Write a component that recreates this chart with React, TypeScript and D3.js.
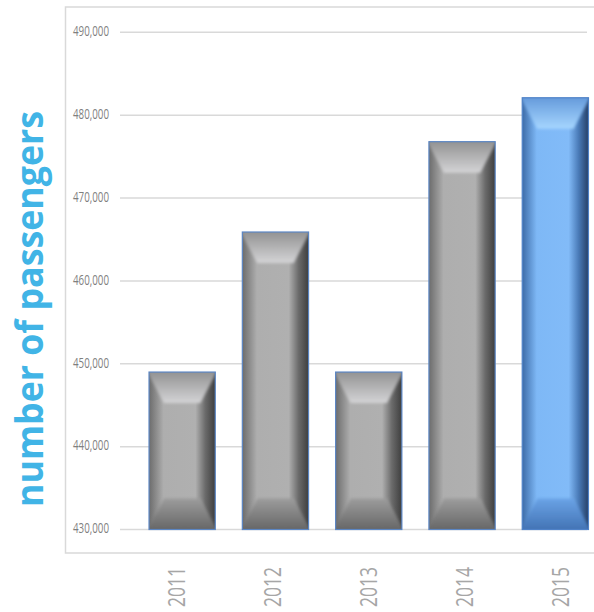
import React from "react";
import * as d3 from "d3";

const years = ["2011", "2012", "2013", "2014", "2015"];
const passengers = [449000, 465900, 449000, 476800, 482100];
const highlight = [false, false, false, false, true];
const yTicks = [430000, 440000, 450000, 460000, 470000, 480000, 490000];
const yTitle = "number of passengers";

const W = 594;
const H = 612;

export default function App() {
  const y = d3.scaleLinear().domain([430000, 490000]).range([529.5, 32.3]);
  const x = d3.scaleBand<string>().domain(years).range([135.5, 602]).paddingInner(0.29).paddingOuter(0.145);
  const xl = d3.scalePoint<string>().domain(years).range([177, 561]);
  const fmt = d3.format(",");
  const bevH = 31;
  const bevW = 15;

  return (
    <svg width={W} height={H} style={{ position: "absolute", left: 0, top: 0, display: "block" }}>
      <defs>
        <filter id="soft" x="-10%" y="-10%" width="120%" height="120%">
          <feGaussianBlur stdDeviation="1.6" />
        </filter>
        <linearGradient id="grayBody" x1="0" x2="1" y1="0" y2="0">
          <stop offset="0" stopColor="#6c6c6c" />
          <stop offset="0.22" stopColor="#aeaeae" />
          <stop offset="0.7" stopColor="#b0b0b0" />
          <stop offset="0.85" stopColor="#6a6a6a" />
          <stop offset="1" stopColor="#3e3e3e" />
        </linearGradient>
        <linearGradient id="grayTop" x1="0" x2="0" y1="0" y2="1">
          <stop offset="0" stopColor="#8c8c8c" />
          <stop offset="1" stopColor="#d4d4d6" />
        </linearGradient>
        <linearGradient id="grayBot" x1="0" x2="0" y1="0" y2="1">
          <stop offset="0" stopColor="#9c9c9c" />
          <stop offset="1" stopColor="#626262" />
        </linearGradient>
        <linearGradient id="blueBody" x1="0" x2="1" y1="0" y2="0">
          <stop offset="0" stopColor="#3d6ca8" />
          <stop offset="0.22" stopColor="#7eb8f6" />
          <stop offset="0.7" stopColor="#82bbf8" />
          <stop offset="0.85" stopColor="#4a7bb8" />
          <stop offset="1" stopColor="#263f66" />
        </linearGradient>
        <linearGradient id="blueTop" x1="0" x2="0" y1="0" y2="1">
          <stop offset="0" stopColor="#5f95d8" />
          <stop offset="1" stopColor="#a6d6ff" />
        </linearGradient>
        <linearGradient id="blueBot" x1="0" x2="0" y1="0" y2="1">
          <stop offset="0" stopColor="#6aa3e6" />
          <stop offset="1" stopColor="#3f6fb0" />
        </linearGradient>
        {years.map((yr, i) => (
          <clipPath key={yr} id={`clip${i}`}>
            <rect
              x={x(yr)!}
              y={y(passengers[i])}
              width={x.bandwidth()}
              height={y(430000) - y(passengers[i])}
            />
          </clipPath>
        ))}
      </defs>
      <rect x={0} y={0} width={W} height={H} fill="#ffffff" />
      {/* frame */}
      <rect x={65.5} y={7} width={W} height={546} fill="none" stroke="#d9d9d9" strokeWidth={1.5} />
      {/* gridlines and y labels */}
      {yTicks.map((t) => (
        <g key={t}>
          <line x1={120} x2={587} y1={y(t)} y2={y(t)} stroke="#d9d9d9" strokeWidth={1.5} />
          <text
            x={109}
            y={y(t)}
            textAnchor="end"
            dominantBaseline="middle"
            fontFamily="Open Sans, sans-serif"
            fontSize={14}
            fill="#7f7f7f"
            textLength={36}
            lengthAdjust="spacingAndGlyphs"
          >
            {fmt(t)}
          </text>
        </g>
      ))}
      {/* bars */}
      {years.map((yr, i) => {
        const x0 = x(yr)!;
        const w = x.bandwidth();
        const x1 = x0 + w;
        const yt = y(passengers[i]);
        const yb = y(430000);
        const hl = highlight[i];
        const pre = hl ? "blue" : "gray";
        return (
          <g key={yr}>
            <rect x={x0} y={yt} width={w} height={yb - yt} fill={`url(#${pre}Body)`} />
            <g clipPath={`url(#clip${i})`}>
              <g filter="url(#soft)">
                <polygon
                  points={`${x0 - 3},${yt - 3} ${x1 + 3},${yt - 3} ${x1 - bevW},${yt + bevH} ${x0 + bevW},${yt + bevH}`}
                  fill={`url(#${pre}Top)`}
                />
                <polygon
                  points={`${x0 + bevW},${yb - bevH} ${x1 - bevW},${yb - bevH} ${x1 + 3},${yb + 3} ${x0 - 3},${yb + 3}`}
                  fill={`url(#${pre}Bot)`}
                />
              </g>
            </g>
            <rect x={x0} y={yt} width={w} height={yb - yt} fill="none" stroke={hl ? "#4f82c8" : "#5b86c4"} strokeWidth={1.2} />
          </g>
        );
      })}
      {/* x labels */}
      {years.map((yr) => (
        <text
          key={yr}
          transform={`translate(${xl(yr)! + 8},567) rotate(-90)`}
          textAnchor="end"
          fontFamily="Open Sans, sans-serif"
          fontSize={23}
          fill="#a6a6a6"
          textLength={40}
          lengthAdjust="spacingAndGlyphs"
        >
          {yr}
        </text>
      ))}
      {/* y title */}
      <text
        transform="translate(43,309) rotate(-90)"
        textAnchor="middle"
        fontFamily="Open Sans, sans-serif"
        fontWeight="bold"
        fontSize={38}
        fill="#41b4e6"
        textLength={396}
        lengthAdjust="spacingAndGlyphs"
      >
        {yTitle}
      </text>
    </svg>
  );
}
